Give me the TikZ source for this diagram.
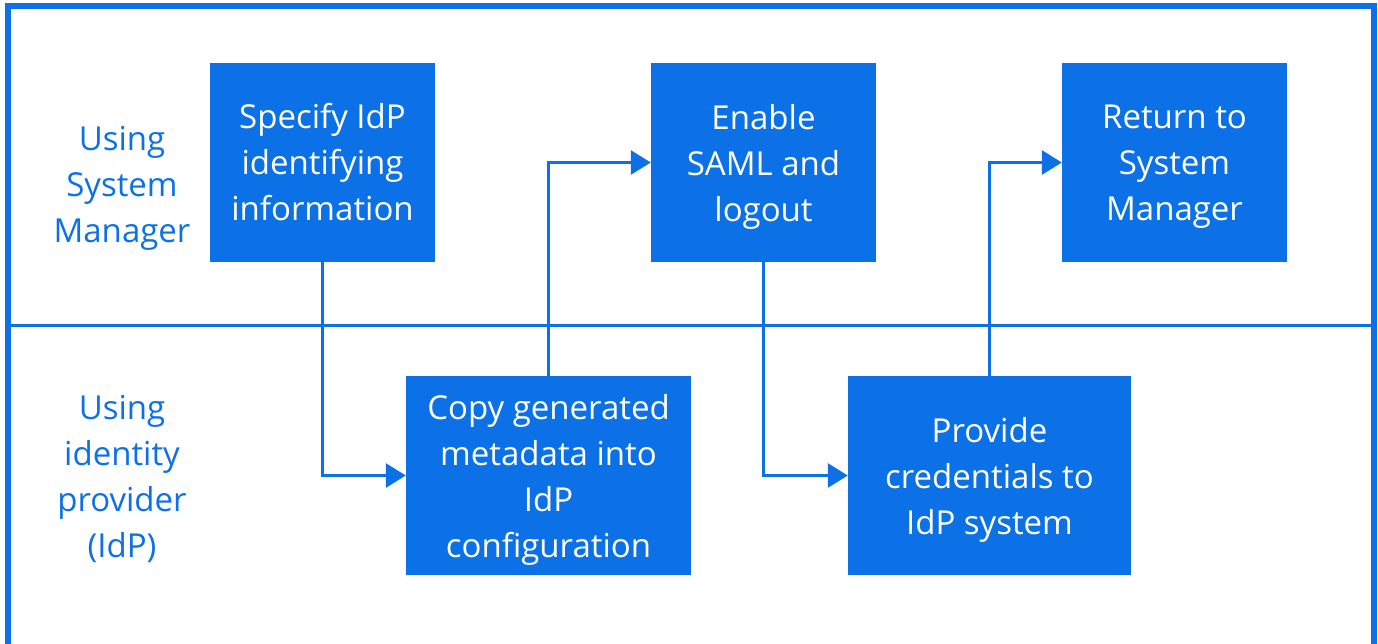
\documentclass[tikz,border=0pt]{standalone}
\usepackage{fontspec}
\setmainfont{Open Sans}
\usetikzlibrary{arrows.meta}
\definecolor{nblue}{RGB}{12,113,230}
\tikzset{
  txt/.style={align=center, font=\fontsize{33}{46}\selectfont, inner sep=0pt},
  stepbox/.style={fill=nblue, draw=none, minimum width=225pt, minimum height=199pt, inner sep=0pt},
  boxtext/.style={txt, text=white},
  lane/.style={txt, text=nblue},
  flow/.style={draw=nblue, line width=3pt, -{Triangle[length=20pt,width=24pt]}},
}
\begin{document}
\begin{tikzpicture}[x=1pt,y=-1pt]
\useasboundingbox (0,0) rectangle (1378,643);
\draw[nblue, line width=6pt] (8,6) rectangle (1374,650);
\draw[nblue, line width=3pt] (8,325) coordinate (dl) -- (1374,325) coordinate (dr);
\node[lane] (l1) at (122,188) {Using\\System\\Manager};
\node[lane] (l2) at (122,479) {Using\\identity\\provider\\(IdP)};
\node[stepbox] (b1) at (322.5,162.5) {};
\node[stepbox] (b2) at (763.5,162.5) {};
\node[stepbox] (b3) at (1174.5,162.5) {};
\node[stepbox, minimum width=285pt] (b4) at (548.5,475.5) {};
\node[stepbox, minimum width=283pt] (b5) at (989.5,475.5) {};
\node[boxtext] (t1) at (b1.center) {Specify IdP\\identifying\\information};
\node[boxtext] (t2) at ([yshift=-4pt]b2.center) {\vphantom{Ag}Enable\\SAML and\\logout};
\node[boxtext] (t3) at ([yshift=-4pt]b3.center) {\vphantom{Ag}Return to\\System\\Manager\vphantom{g}};
\node[boxtext] (t4) at ([yshift=-4pt]b4.center) {Copy generated\\metadata into\\IdP\\configuration};
\node[boxtext] (t5) at ([yshift=-4pt]b5.center) {Provide\\credentials to\\IdP system};
\draw[flow] (b1.south) |- (b4.west);
\draw[flow] (b4.north) |- (b2.west);
\draw[flow] (b2.south) |- (b5.west);
\draw[flow] (b5.north) |- (b3.west);
\end{tikzpicture}
\end{document}
